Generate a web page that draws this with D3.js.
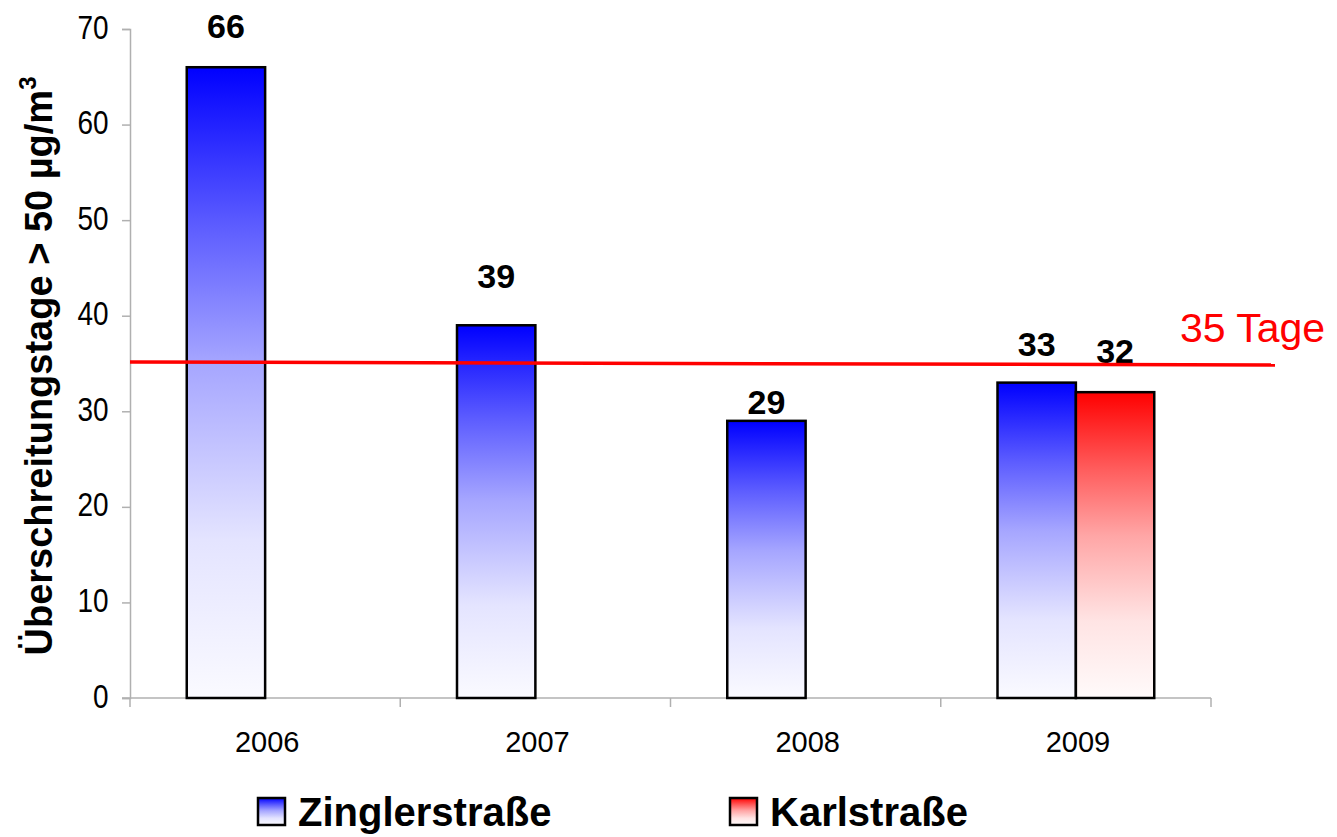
<html>
<head>
<meta charset="utf-8">
<script src="https://d3js.org/d3.v7.min.js"></script>
<style>
  body { margin: 0; background: #fff; }
  text { font-family: "Liberation Sans", Arial, sans-serif; }
</style>
</head>
<body>
<svg id="chart" width="1337" height="837"></svg>
<script>
// values
const years = ["2006", "2007", "2008", "2009"];
const series = ["Zinglerstraße", "Karlstraße"];
const zingler = [66, 39, 29, 33];
const karl = [null, null, null, 32];
const yTicks = [0, 10, 20, 30, 40, 50, 60, 70];
const limitValue = 35;
const limitLabel = "35 Tage";
const yTitle = "Überschreitungstage > 50 µg/m";

// label lift above each bar (px), as placed in the original
const lift = {"Zinglerstraße": [29, 37, 7, 27], "Karlstraße": [0, 0, 0, 29]};

const svg = d3.select("#chart");
const plotL = 130, plotR = 1211, plotT = 29, plotB = 698;

const x = d3.scaleBand().domain(years).range([plotL, plotR])
  .paddingInner(0.42).paddingOuter(0.21);
const xs = d3.scaleBand().domain(series).range([0, x.bandwidth()]);
const y = d3.scaleLinear().domain([0, 70]).range([plotB, plotT]);

// gradients (strong colour at top fading to almost white)
const defs = svg.append("defs");
function grad(id, stops) {
  const g = defs.append("linearGradient").attr("id", id)
    .attr("x1", 0).attr("y1", 0).attr("x2", 0).attr("y2", 1);
  stops.forEach(s => g.append("stop").attr("offset", s[0]).attr("stop-color", s[1]));
}
grad("gBlue", [["0%", "#0000ff"], ["25%", "#5c5cff"], ["47%", "#a6a6ff"], ["75%", "#e4e4ff"], ["100%", "#fafaff"]]);
grad("gRed", [["0%", "#ff0000"], ["25%", "#ff5c5c"], ["47%", "#ffa6a6"], ["75%", "#ffe4e4"], ["100%", "#fffafa"]]);
const fills = {"Zinglerstraße": "url(#gBlue)", "Karlstraße": "url(#gRed)"};

// y axis
const yAxis = svg.append("g").attr("transform", "translate(" + plotL + ",0)")
  .call(d3.axisLeft(y).tickValues(yTicks).tickSize(8).tickPadding(17));
yAxis.select(".domain").attr("stroke", "#b0b0b0").attr("stroke-width", 1.5);
yAxis.selectAll(".tick line").attr("stroke", "#b0b0b0").attr("stroke-width", 1.5);
yAxis.selectAll(".tick text").attr("font-size", 32.5).attr("fill", "#000")
  .attr("transform", "scale(0.86,1)").attr("dy", "0.28em")
  .style("font-family", "'Liberation Sans', Arial, sans-serif");

// x axis: labels at band centres, ticks at band boundaries
const xAxis = svg.append("g").attr("transform", "translate(0," + plotB + ")")
  .call(d3.axisBottom(x).tickSize(0).tickPadding(33));
xAxis.select(".domain").attr("d", "M" + (plotL - 8) + ",0H" + plotR)
  .attr("stroke", "#b0b0b0").attr("stroke-width", 1.5);
xAxis.selectAll(".tick text").attr("font-size", 29).attr("fill", "#000")
  .attr("x", 2)
  .style("font-family", "'Liberation Sans', Arial, sans-serif");
const bounds = years.map(d => x(d) - x.step() * x.paddingOuter()).concat([plotR]);
xAxis.selectAll(".bound").data(bounds).enter().append("line")
  .attr("x1", d => d).attr("x2", d => d).attr("y1", 0).attr("y2", 9)
  .attr("stroke", "#b0b0b0").attr("stroke-width", 1.5);

// bars
const rows = [];
years.forEach((yr, i) => {
  if (zingler[i] != null) rows.push({year: yr, s: "Zinglerstraße", v: zingler[i], i: i});
  if (karl[i] != null) rows.push({year: yr, s: "Karlstraße", v: karl[i], i: i});
});

svg.append("g").selectAll("rect").data(rows).enter().append("rect")
  .attr("x", d => x(d.year) + xs(d.s))
  .attr("y", d => y(d.v))
  .attr("width", xs.bandwidth())
  .attr("height", d => y(0) - y(d.v))
  .attr("fill", d => fills[d.s])
  .attr("stroke", "#000").attr("stroke-width", 2.5);

svg.append("g").selectAll("text").data(rows).enter().append("text")
  .attr("x", d => x(d.year) + xs(d.s) + xs.bandwidth() / 2)
  .attr("y", d => y(d.v) - lift[d.s][d.i])
  .attr("text-anchor", "middle")
  .attr("font-size", 34).attr("font-weight", "bold").attr("fill", "#000")
  .text(d => d.v);

// limit line
svg.append("line")
  .attr("x1", plotL).attr("x2", 1275)
  .attr("y1", y(limitValue) - 1.5).attr("y2", y(limitValue) + 1.5)
  .attr("stroke", "#ff0000").attr("stroke-width", 3.5);
svg.append("text").attr("x", 1180).attr("y", 342)
  .attr("font-size", 41).attr("fill", "#ff0000").text(limitLabel);

// y title
const yt = svg.append("text")
  .attr("transform", "translate(52,366) rotate(-90)")
  .attr("text-anchor", "middle")
  .attr("font-size", 38).attr("font-weight", "bold").attr("fill", "#000");
yt.append("tspan").text(yTitle);
yt.append("tspan").attr("font-size", 24).attr("dy", -16).text("3");

// legend
const legX = [258, 730];
const leg = svg.append("g").selectAll("g").data(series).enter().append("g")
  .attr("transform", (d, i) => "translate(" + legX[i] + ",798)");
leg.append("rect").attr("width", 27).attr("height", 27)
  .attr("fill", d => fills[d]).attr("stroke", "#000").attr("stroke-width", 2.5);
leg.append("text").attr("x", 40).attr("y", 28)
  .attr("font-size", 40).attr("font-weight", "bold").attr("fill", "#000")
  .text(d => d);
</script>
</body>
</html>
